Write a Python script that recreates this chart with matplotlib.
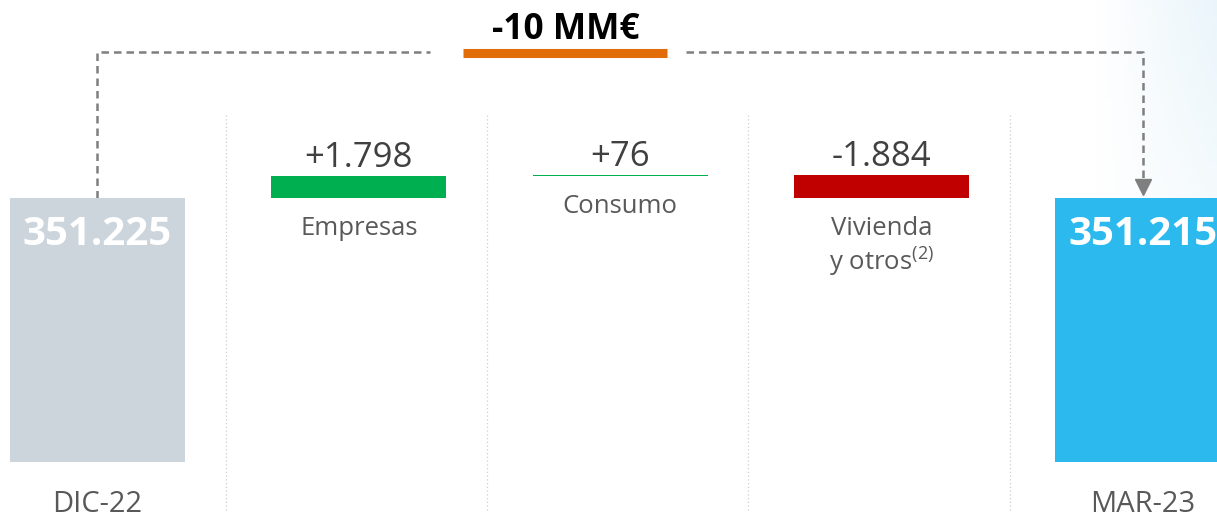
import matplotlib.pyplot as plt
import numpy as np

plt.rcParams['font.family'] = ['Open Sans', 'DejaVu Sans']

# datos
etiquetas = ["DIC-22", "Empresas", "Consumo", "Vivienda\ny otros$^{\\mathregular{(2)}}$", "MAR-23"]
saldo_ini = 351225
variaciones = [1798, 76, -1884]
saldo_fin = 351215
txt_saldos = ["351.225", "351.215"]
txt_var = ["+1.798", "+76", "-1.884"]
titulo = "-10 MM€"

col_var = ["#00B050", "#00B050", "#C00000"]
col_ini = "#CDD5DC"
col_fin = "#2BB9EE"
gris_txt = "#595959"
base = 329700   # eje truncado
ancho = 0.67

fig = plt.figure(figsize=(12.17, 5.21), dpi=100)

# fondo degradado suave a la derecha
bg = fig.add_axes([0, 0, 1, 1], zorder=0)
gx, gy = np.meshgrid(np.linspace(0, 1, 300), np.linspace(0, 1, 120))
img = np.zeros((120, 300, 4))
img[..., :3] = np.array([220, 239, 248]) / 255
img[..., 3] = np.clip((gx - 0.9) / 0.1, 0, 1) * np.clip(1 - gy / 0.75, 0, 1) * 0.6
bg.imshow(img, extent=[0, 1, 1, 0], aspect='auto')
bg.set_xlim(0, 1); bg.set_ylim(1, 0)
bg.axis('off')

ax = fig.add_axes([0, 0, 1, 1], zorder=1)
ax.patch.set_alpha(0)
ax.set_xlim(-0.373, 4.284)
ax.set_ylim(324840, 367400)
ax.axis('off')

x = np.arange(5)

# separadores punteados
for s in x[:-1] + 0.49:
    ax.vlines(s, 325735, 358170, colors="#cfcfcf", linestyles=(0, (1, 2)), lw=0.9)

# barras de saldo
ax.bar(x[0], saldo_ini - base, bottom=base, width=ancho, color=col_ini, zorder=2)
ax.bar(x[4], saldo_fin - base, bottom=base, width=ancho, color=col_fin, zorder=2)

# barras de variación
acum = saldo_ini
for i, v in enumerate(variaciones):
    ax.bar(x[i + 1], v, bottom=acum, width=ancho, color=col_var[i], zorder=2)
    top = max(acum, acum + v)
    bot = min(acum, acum + v)
    ax.annotate(txt_var[i], (x[i + 1], top), xytext=(0, 1), textcoords='offset points',
                ha='center', va='bottom', fontsize=25, color="#404040")
    ax.annotate(etiquetas[i + 1], (x[i + 1], bot), xytext=(0, -13), textcoords='offset points',
                ha='center', va='top', fontsize=18.5, color=gris_txt, linespacing=1.1)
    acum += v

# textos de saldo
for xi, val, t in [(x[0], saldo_ini, txt_saldos[0]), (x[4], saldo_fin, txt_saldos[1])]:
    ax.annotate(t, (xi, val), xytext=(0, -12), textcoords='offset points',
                ha='center', va='top', fontsize=29, fontweight='bold', color='white', zorder=3)
for xi, t in [(x[0], etiquetas[0]), (x[4], etiquetas[4])]:
    ax.annotate(t, (xi, base), xytext=(0, -31), textcoords='offset points',
                ha='center', va='center', fontsize=21, color=gris_txt)

# conector discontinuo con flecha
y_con = 363150
x_tit = 1.79
gris_l = "#7f7f7f"
ax.plot([x[0], x[0], 1.272], [saldo_ini, y_con, y_con], color=gris_l, lw=1.8,
        ls=(0, (3, 2)), zorder=1)
ax.plot([2.252, x[4], x[4]], [y_con, y_con, saldo_fin + 1300], color=gris_l, lw=1.8,
        ls=(0, (3, 2)), zorder=1)
ax.plot(x[4], saldo_fin + 900, marker='v', ms=11, color=gris_l, mec=gris_l, zorder=3)

# título y subrayado
ax.text(x_tit, 364950, titulo, ha='center', va='center', fontsize=25.5,
        fontweight='bold', color='black')
ax.hlines(y_con - 120, x_tit - 0.39, x_tit + 0.39, colors="#E36C0A", lw=6.5)

fig.savefig("out.png", dpi=100)
